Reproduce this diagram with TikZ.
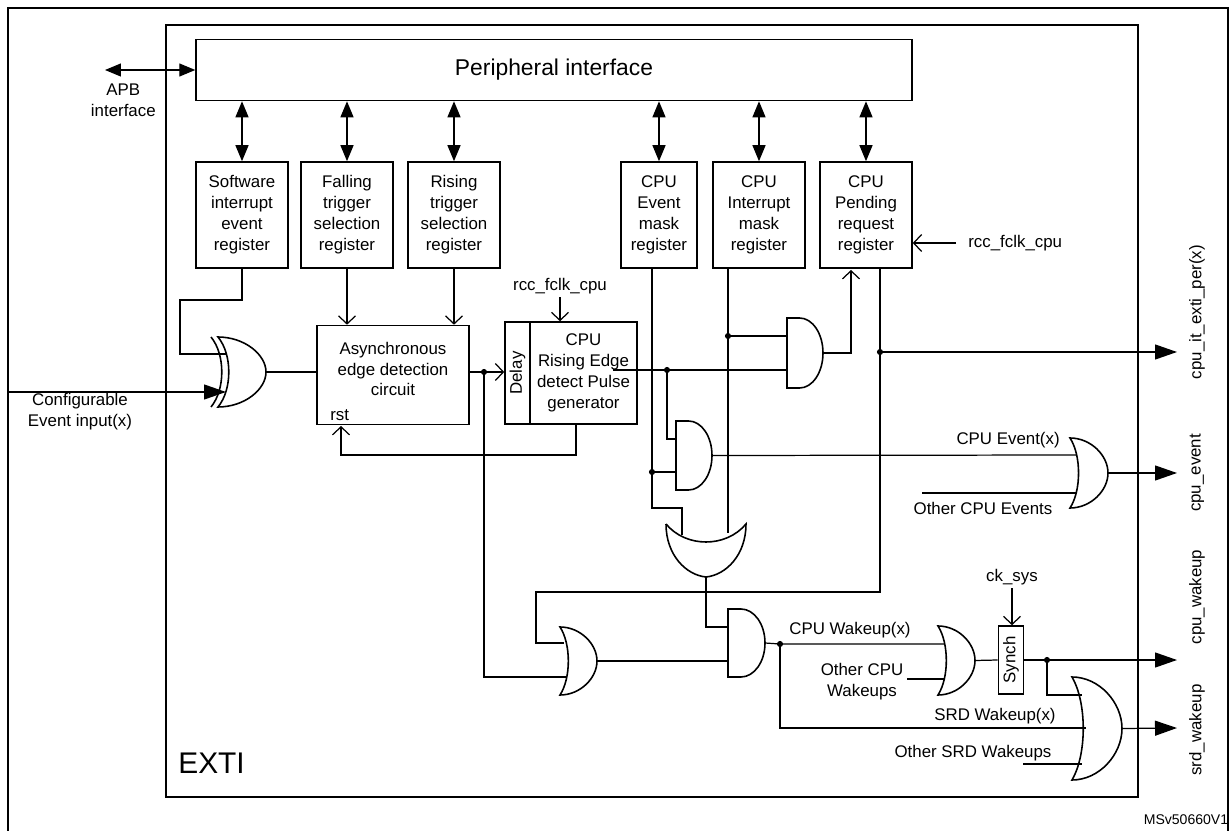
\documentclass[tikz,border=0pt]{standalone}
\usepackage{fontspec}
\setmainfont{Liberation Sans}
\usetikzlibrary{arrows.meta,calc}
\newcommand{\fs}{\fontsize{9.6}{11.9}\selectfont}
\tikzset{
    sig/.style={line width=0.7pt},
    gate/.style={line width=0.9pt},
    reg/.style={draw,line width=0.9pt,align=center,inner sep=1pt,font=\fs},
    lbl/.style={align=center,inner sep=0pt,font=\fs},
    opn/.style={-{Straight Barb[length=1.6mm,width=3.4mm]}},
    big/.style={-{Triangle[length=4.4mm,width=3mm]}},
    dbl/.style={{Triangle[length=3.2mm,width=2.6mm]}-{Triangle[length=3.2mm,width=2.6mm]}},
    dot/.style={circle,fill,inner sep=0pt,minimum size=3.5pt},
  }
% and gate: name, x, y, w, h
\newcommand{\andg}[5]{%
  \pgfmathsetmacro\ga{#2+0.35*#4}\pgfmathsetmacro\gb{#3+#5}%
  \pgfmathsetmacro\gm{#3+#5/2}\pgfmathsetmacro\gr{#2+#4}%
  \pgfmathsetmacro\kx{\ga+0.552*0.65*#4}\pgfmathsetmacro\ky{0.552*#5/2}%
  \draw[gate] (#2,#3) -- (\ga,#3) .. controls (\kx,#3) and (\gr,{\gm-\ky}) .. (\gr,\gm)
    .. controls (\gr,{\gm+\ky}) and (\kx,\gb) .. (\ga,\gb) -- (#2,\gb) -- cycle;
  \coordinate (#1) at (\gr,\gm);}
% or gate: name, x, y, w, h
\newcommand{\org}[5]{%
  \pgfmathsetmacro\gb{#3+#5}\pgfmathsetmacro\gm{#3+#5/2}\pgfmathsetmacro\gr{#2+#4}%
  \pgfmathsetmacro\ka{#2+0.55*#4}\pgfmathsetmacro\kb{#2+0.3*#4}%
  \pgfmathsetmacro\ya{#3+0.25*#5}\pgfmathsetmacro\yb{#3+0.75*#5}%
  \draw[gate] (#2,#3) .. controls (\ka,#3) and (\gr,\ya) .. (\gr,\gm)
    .. controls (\gr,\yb) and (\ka,\gb) .. (#2,\gb)
    .. controls (\kb,\yb) and (\kb,\ya) .. cycle;
  \coordinate (#1) at (\gr,\gm);}
\newcommand{\xorg}[5]{%
  \org{#1}{#2}{#3}{#4}{#5}%
  \pgfmathsetmacro\kc{#2-7+0.3*#4}%
  \draw[gate] ({#2-7},\gb) .. controls (\kc,\yb) and (\kc,\ya) .. ({#2-7},#3);}

\begin{document}
\begin{tikzpicture}[x=0.02cm,y=-0.02cm]
  \useasboundingbox (0,0) rectangle (1232,831);
  % frames
  \draw[line width=1pt] (8,831) -- (8,8) -- (1228,8) -- (1228,831);
  \draw[line width=1pt] (166,25) rectangle (1138,797);
  \node[anchor=west,inner sep=0pt,font=\fontsize{17}{17}\selectfont] (exti) at (178,763) {EXTI};
  \node[inner sep=0pt,font=\fontsize{8}{8}\selectfont] (ref) at (1186,820) {MSv50660V1};

  % peripheral interface and registers
  \node[draw,line width=0.9pt,minimum width=14.32cm,minimum height=1.22cm,
        font=\fontsize{13}{13}\selectfont] (periph) at (554,70) {Peripheral interface};
  \node[reg,minimum width=1.84cm,minimum height=2.12cm] (swreg) at (242,215) {Software\\interrupt\\event\\register};
  \node[reg,minimum width=1.84cm,minimum height=2.12cm] (fallreg) at (347,215) {Falling\\trigger\\selection\\register};
  \node[reg,minimum width=1.84cm,minimum height=2.12cm] (risereg) at (454,215) {Rising\\trigger\\selection\\register};
  \node[reg,minimum width=1.52cm,minimum height=2.12cm] (evtreg) at (659,215) {CPU\\Event\\mask\\register};
  \node[reg,minimum width=1.84cm,minimum height=2.12cm] (itreg) at (759,215) {CPU\\Interrupt\\mask\\register};
  \node[reg,minimum width=1.84cm,minimum height=2.12cm] (pendreg) at (866,215) {CPU\\Pending\\request\\register};
  \foreach \r in {swreg,fallreg,risereg,evtreg,itreg,pendreg}
    \draw[sig,dbl] (periph.south -| \r.north) -- (\r.north);
  \coordinate (apb) at (105,70);
  \draw[sig,dbl] (apb) -- (periph.west |- apb);
  \node[lbl,anchor=north east] (apbl) at (156,84) {APB\\interface};
  \node[lbl,anchor=west] (clk1) at (968,243) {rcc\_fclk\_cpu};
  \draw[sig,opn] (clk1.west) ++(-12,0) -- (pendreg.east |- clk1);

  % edge detection
  \xorg{xo}{218}{337}{48}{70}
  \coordinate (cfg) at (8,392);
  \draw[sig,big] (cfg) -- (226,392);
  \node[lbl] (cfgl) at (80,412) {Configurable\\Event input(x)};
  \draw[sig] (swreg.south) |- (180,300) |- (226,354);
  \node[reg,minimum width=3.04cm,minimum height=1.98cm] (async) at (393,375) {};
  \node[lbl] (asyncl) at (393,369) {Asynchronous\\edge detection\\circuit};
  \node[lbl,anchor=south west] (rst) at (330,421) {rst};
  \draw[sig] (xo) -- (xo -| async.west);
  \draw[sig,opn] (fallreg.south) -- (fallreg.south |- async.north);
  \draw[sig,opn] (risereg.south) -- (risereg.south |- async.north);
  \node[draw,line width=0.9pt,minimum width=2.04cm,minimum height=0.5cm,inner sep=0pt,
        rotate=90,font=\fs] (delay) at (517.5,373) {Delay};
  \node[reg,minimum width=2.14cm,minimum height=2.04cm] (pulse) at (583.5,373) {CPU\\Rising Edge\\detect Pulse\\generator};
  \coordinate (ad) at (484,372);
  \draw[sig,opn] (async.east |- ad) -- (delay.north |- ad);
  \node[dot] at (ad) {};
  \node[lbl] (clk2) at (560,286) {rcc\_fclk\_cpu};
  \draw[sig,opn] (clk2.south) ++(0,3) -- (clk2 |- pulse.north);
  \draw[sig,opn] (576,424) -- (576,455) -- (341,455) -- (341,426);

  % interrupt / event gates
  \andg{a1}{787}{318}{36}{70}
  \andg{a2}{676}{421}{36}{69}
  \coordinate (pl) at (613,370);
  \draw[sig] (pl) -- (787,370);
  \node[dot] at (667,370) {};
  \draw[sig] (667,370) |- (676,439);
  \draw[sig] (itreg.south -| 728,0) -- (728,533);
  \node[dot] at (728,336) {};
  \draw[sig] (728,336) -- (787,336);
  \draw[sig,opn] (a1) -| (851,270);
  \draw[sig] (evtreg.south -| 652,0) -- (652,508) -- (682,508) -- (682,535);
  \node[dot] at (652,472) {};
  \draw[sig] (652,472) -- (676,472);
  \draw[sig] (pendreg.south -| 880,0) -- (880,592) -- (536,592) -- (536,643) -- (564,643);
  \node[dot] at (880,352) {};
  \draw[sig,big] (880,352) -- (1177,352);
  \node[rotate=90,inner sep=0pt,font=\fs] (itout) at (1197,312) {cpu\_it\_exti\_per(x)};

  % event output
  \org{oe}{1070}{438}{38}{70}
  \draw[sig] (a2) -- (1076,455);
  \node[lbl,anchor=south east] (evx) at (1060,448) {CPU Event(x)};
  \draw[sig] (922,493) -- (1077,493);
  \node[lbl] (oevl) at (983,508) {Other CPU Events};
  \draw[sig,big] (oe) -- (1177,473);
  \node[rotate=90,inner sep=0pt,font=\fs] (evout) at (1197,473) {cpu\_event};

  % wakeup path
  \draw[gate] (666,524) .. controls (686,548) and (726,548) .. (746,524)
    .. controls (746,555) and (726,575) .. (706,577)
    .. controls (686,575) and (666,555) .. (666,524);
  \coordinate (bo) at (706,577);
  \andg{a3}{728}{609}{37}{68}
  \org{ow}{560}{627}{37}{68}
  \draw[sig] (bo) |- (728,627);
  \draw[sig] (ow) -- (728,661);
  \draw[sig] (ad) |- (567,677);
  \node[dot] at (780,644) {};
  \draw[sig] (a3) -- (780,644) -- (944,644);
  \node[lbl] (cwx) at (850,630) {CPU Wakeup(x)};
  \org{ocw}{938}{626}{37}{69}
  \draw[sig] (907,679) -- (945,679);
  \node[lbl] (ocwl) at (862,682) {Other CPU\\Wakeups};
  \node[draw,line width=0.9pt,minimum width=1.36cm,minimum height=0.5cm,inner sep=0pt,
        rotate=90,font=\fs] (synch) at (1011,660) {Synch};
  \draw[sig] (ocw) -- (synch.north);
  \node[lbl] (cks) at (1012,577) {ck\_sys};
  \draw[sig,opn] (cks.south) ++(0,3) -- (cks |- synch.east);
  \node[dot] at (1047,660) {};
  \draw[sig,big] (synch.south) -- (1177,660);
  \node[rotate=90,inner sep=0pt,font=\fs] (cwout) at (1197,597) {cpu\_wakeup};
  \org{os}{1072}{677}{50}{103}
  \draw[sig] (1047,660) |- (1082,695);
  \draw[sig] (780,644) |- (1086,728);
  \node[lbl,anchor=south] (swx) at (995,724) {SRD Wakeup(x)};
  \draw[sig] (1023,764) -- (1082,764);
  \node[lbl] (oswl) at (973,753) {Other SRD Wakeups};
  \draw[sig,big] (os) -- (1177,728);
  \node[rotate=90,inner sep=0pt,font=\fs] (swout) at (1197,730) {srd\_wakeup};
\end{tikzpicture}
\end{document}
